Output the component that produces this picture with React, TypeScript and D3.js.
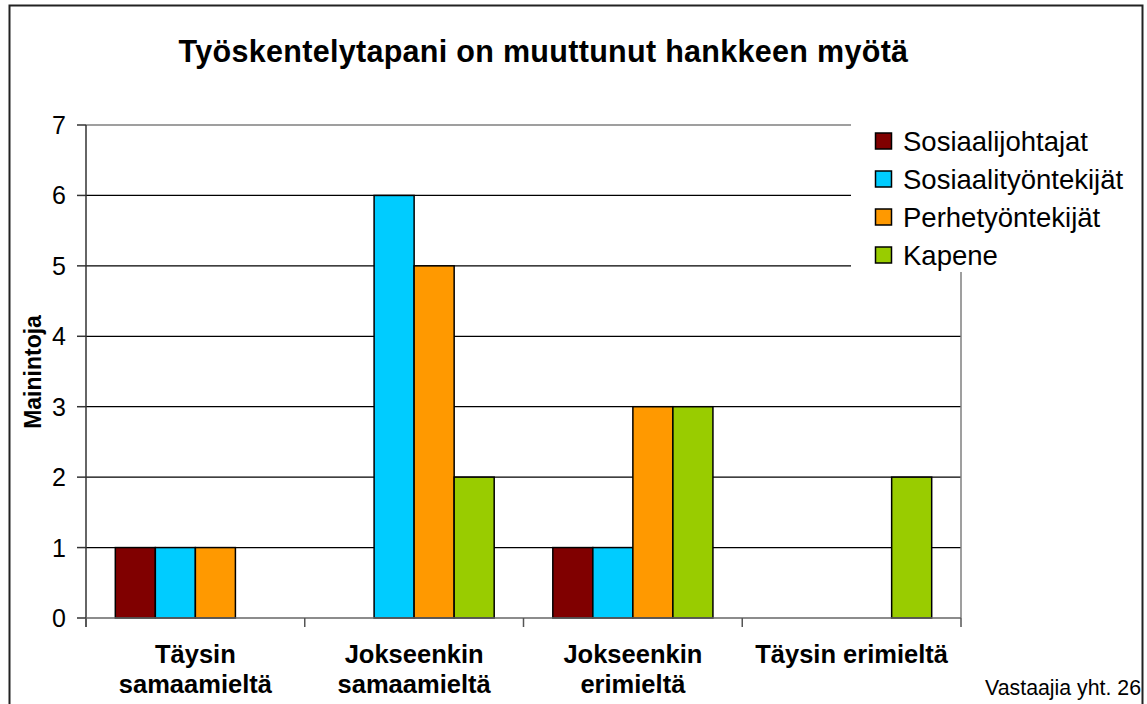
import * as d3 from 'd3'
import { useEffect, useRef } from 'react'

// categories and series
const categories = ['Täysin samaamieltä', 'Jokseenkin samaamieltä', 'Jokseenkin erimieltä', 'Täysin erimieltä']
const categoryLines = [['Täysin', 'samaamieltä'], ['Jokseenkin', 'samaamieltä'], ['Jokseenkin', 'erimieltä'], ['Täysin erimieltä']]
const seriesNames = ['Sosiaalijohtajat', 'Sosiaalityöntekijät', 'Perhetyöntekijät', 'Kapene']
const seriesColors = ['#800000', '#00ccff', '#ff9900', '#99cc00']
const sosiaalijohtajat = [1, 0, 1, 0]
const sosiaalityontekijat = [1, 6, 1, 0]
const perhetyontekijat = [1, 5, 3, 0]
const kapene = [0, 2, 3, 2]
const yTicks = [0, 1, 2, 3, 4, 5, 6, 7]

const W = 1147
const H = 704
const FONT = '"Liberation Sans", Arial, sans-serif'

export default function App() {
    const svgRef = useRef<SVGSVGElement>(null)

    useEffect(() => {
        const svg = d3.select(svgRef.current)
        svg.selectAll('*').remove()

        const values = [sosiaalijohtajat, sosiaalityontekijat, perhetyontekijat, kapene]
        const left = 86, right = 961, top = 125, bottom = 618

        const x0 = d3.scaleBand().domain(categories).range([left, right])
        const bw = x0.bandwidth()
        const x1 = d3.scaleBand().domain(seriesNames).range([bw * 0.134, bw * 0.866])
        const y = d3.scaleLinear().domain([0, 7]).range([bottom, top])

        svg.append('rect').attr('width', W).attr('height', H).attr('fill', '#fff')

        // outer chart border
        svg.append('rect')
            .attr('x', 9.5).attr('y', 5.5)
            .attr('width', 1133).attr('height', 720)
            .attr('fill', 'none').attr('stroke', '#222').attr('stroke-width', 2)

        // title
        svg.append('text')
            .attr('x', 543.5).attr('y', 62)
            .attr('text-anchor', 'middle')
            .attr('font-family', FONT).attr('font-weight', 'bold').attr('font-size', 30.5)
            .attr('letter-spacing', 0.3)
            .text('Työskentelytapani on muuttunut hankkeen myötä')

        // gridlines
        svg.append('g').selectAll('line')
            .data(yTicks.filter(t => t > 0 && t < 7))
            .join('line')
            .attr('x1', left).attr('x2', right)
            .attr('y1', d => y(d)).attr('y2', d => y(d))
            .attr('stroke', '#000').attr('stroke-width', 1.2)

        // plot area border (top + right)
        svg.append('path')
            .attr('d', `M${left},${top}H${right}V${bottom}`)
            .attr('fill', 'none').attr('stroke', '#808080').attr('stroke-width', 1.5)

        // bars
        const g = svg.append('g')
        seriesNames.forEach((name, si) => {
            g.append('g').selectAll('rect')
                .data(values[si].map((v, ci) => ({ v, c: categories[ci] })).filter(d => d.v > 0))
                .join('rect')
                .attr('x', d => (x0(d.c) ?? 0) + (x1(name) ?? 0))
                .attr('y', d => y(d.v))
                .attr('width', x1.bandwidth())
                .attr('height', d => y(0) - y(d.v))
                .attr('fill', seriesColors[si])
                .attr('stroke', '#000').attr('stroke-width', 1.5)
        })

        // y axis
        const yAxis = svg.append('g')
        yAxis.append('line')
            .attr('x1', left).attr('x2', left).attr('y1', top).attr('y2', bottom + 9)
            .attr('stroke', '#333').attr('stroke-width', 1.5)
        yAxis.selectAll('line.tick')
            .data(yTicks)
            .join('line').attr('class', 'tick')
            .attr('x1', left - 9).attr('x2', left)
            .attr('y1', d => y(d)).attr('y2', d => y(d))
            .attr('stroke', '#333').attr('stroke-width', 1.5)
        yAxis.selectAll('text')
            .data(yTicks)
            .join('text')
            .attr('x', 66).attr('y', d => y(d) + 9)
            .attr('text-anchor', 'end')
            .attr('font-family', FONT).attr('font-size', 25)
            .text(d => d)

        // x axis
        const xAxis = svg.append('g')
        xAxis.append('line')
            .attr('x1', left).attr('x2', right).attr('y1', bottom).attr('y2', bottom)
            .attr('stroke', '#666').attr('stroke-width', 1.5)
        xAxis.selectAll('line.tick')
            .data([...categories.map(c => x0(c) ?? 0), right])
            .join('line').attr('class', 'tick')
            .attr('x1', d => d).attr('x2', d => d)
            .attr('y1', bottom).attr('y2', bottom + 9)
            .attr('stroke', '#555').attr('stroke-width', 1.5)
        xAxis.selectAll('text')
            .data(categories)
            .join('text')
            .attr('text-anchor', 'middle')
            .attr('font-family', FONT).attr('font-weight', 'bold').attr('font-size', 25.5)
            .each(function (c, i) {
                const t = d3.select(this)
                categoryLines[i].forEach((line, li) => {
                    t.append('tspan')
                        .attr('x', (x0(c) ?? 0) + bw / 2)
                        .attr('y', 663 + li * 30)
                        .text(line)
                })
            })

        // y axis title
        svg.append('text')
            .attr('transform', `translate(41,372) rotate(-90)`)
            .attr('text-anchor', 'middle')
            .attr('font-family', FONT).attr('font-weight', 'bold').attr('font-size', 23)
            .text('Mainintoja')

        // legend
        const legend = svg.append('g')
        legend.append('rect')
            .attr('x', 851).attr('y', 115).attr('width', 288).attr('height', 157)
            .attr('fill', '#fff')
        const item = legend.selectAll('g')
            .data(seriesNames)
            .join('g')
            .attr('transform', (_, i) => `translate(875,${141 + i * 38})`)
        item.append('rect')
            .attr('x', 0.5).attr('y', -8).attr('width', 16).attr('height', 16)
            .attr('fill', (_, i) => seriesColors[i])
            .attr('stroke', '#000').attr('stroke-width', 1.5)
        item.append('text')
            .attr('x', 28).attr('y', 10)
            .attr('font-family', FONT).attr('font-size', 27.5)
            .text(d => d)

        // footnote
        svg.append('text')
            .attr('x', 1141).attr('y', 695)
            .attr('text-anchor', 'end')
            .attr('font-family', FONT).attr('font-size', 21.3)
            .text('Vastaajia yht. 26')
    }, [])

    return (
        <div style={{ position: 'absolute', left: 0, top: 0 }}>
            <svg ref={svgRef} width={W} height={H} style={{ display: 'block' }}></svg>
        </div>
    )
}
